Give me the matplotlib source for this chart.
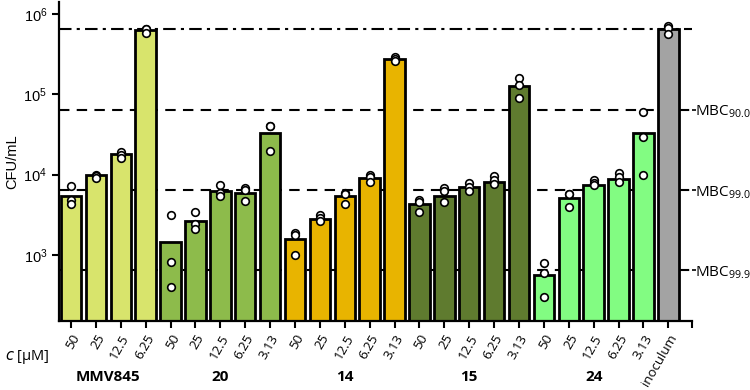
import numpy as np
import matplotlib.pyplot as plt

# concentrations (x tick labels) and groups
conc_labels = ["50", "25", "12.5", "6.25",
               "50", "25", "12.5", "6.25", "3.13",
               "50", "25", "12.5", "6.25", "3.13",
               "50", "25", "12.5", "6.25", "3.13",
               "50", "25", "12.5", "6.25", "3.13",
               "inoculum"]
group_names = ["MMV845", "20", "14", "15", "24"]
group_sizes = [4, 5, 5, 5, 5]

# bar heights (CFU/mL)
mmv845 = [5400, 9800, 17900, 630000]
cpd20 = [1440, 2670, 6250, 5960, 33300]
cpd14 = [1560, 2800, 5400, 9000, 273000]
cpd15 = [4270, 5400, 6950, 8160, 127000]
cpd24 = [562, 5160, 7410, 8810, 33300]
inoculum = [645000]

# replicates (CFU/mL)
mmv845_pts = [[7100, 4800, 4300], [10000, 9500, 9000], [19300, 17500, 16200], [650000, 640000, 575000]]
cpd20_pts = [[3140, 810, 400], [3390, 2450, 2090], [7300, 5900, 5400], [6700, 6500, 4700], [40300, 40000, 19900]]
cpd14_pts = [[1890, 1770, 1000], [3140, 2900, 2670], [5900, 5800, 4300], [10000, 9400, 8000], [288000, 275000, 262000]]
cpd15_pts = [[4800, 4600, 3390], [6800, 6250, 4600], [7950, 7080, 6150], [9540, 8500, 7600], [161000, 131000, 90800]]
cpd24_pts = [[800, 600, 302], [5700, 5700, 3900], [8500, 7940, 7410], [10400, 9400, 8000], [59700, 29600, 10000]]
inoculum_pts = [[715000, 660000, 558000]]

colors = ["#d8e46c", "#8dbb4b", "#e8b400", "#5f7b2f", "#82fc82", "#a3a3a3"]

heights = mmv845 + cpd20 + cpd14 + cpd15 + cpd24 + inoculum
points = mmv845_pts + cpd20_pts + cpd14_pts + cpd15_pts + cpd24_pts + inoculum_pts
bar_colors = ([colors[0]] * 4 + [colors[1]] * 5 + [colors[2]] * 5 +
              [colors[3]] * 5 + [colors[4]] * 5 + [colors[5]])
x = np.arange(len(heights))

fig = plt.figure(figsize=(7.5, 3.9), dpi=100)
ax = fig.add_axes([0.0787, 0.177, 0.844, 0.818])
ax.set_yscale("log")
ax.set_ylim(150, 1.41e6)
ax.set_xlim(-0.48, 24.95)

# reference lines: inoculum and MBC levels
inoc = inoculum[0]
ax.axhline(inoc, color="black", lw=1.5, ls=(0, (6, 2.5, 1.5, 2.5)), zorder=1)
for f in [10, 100, 1000]:
    ax.axhline(inoc / f, color="black", lw=1.5, ls=(0, (5, 3.5)), zorder=1)

ax.bar(x, heights, width=0.82, color=bar_colors, edgecolor="black", linewidth=2, zorder=2)
for xi, p in zip(x, points):
    ax.scatter([xi] * len(p), p, s=30, facecolor="white", edgecolor="black", linewidth=1.2, zorder=4)

for s in ["top", "right"]:
    ax.spines[s].set_visible(False)
ax.spines["left"].set_linewidth(1.6)
ax.spines["bottom"].set_linewidth(1.6)

ax.set_yticks([1e3, 1e4, 1e5, 1e6])
ax.yaxis.set_minor_locator(plt.NullLocator())
ax.tick_params(axis="y", labelsize=10.5, width=1.5, length=5)
for t in ax.get_yticklabels():
    t.set_family("Liberation Sans")
ax.set_ylabel("CFU/mL", fontsize=10.5, family="Liberation Sans", labelpad=3)

ax.set_xticks(list(x) + [24.95])
ax.set_xticklabels(conc_labels + [""], rotation=60, ha="right", rotation_mode="anchor",
                   fontsize=9.5, family="Open Sans")
ax.tick_params(axis="x", width=1.5, length=5, pad=3)

# right side MBC labels
ax2 = ax.twinx()
ax2.set_yscale("log")
ax2.set_ylim(ax.get_ylim())
ax2.set_yticks([inoc / 10, inoc / 100, inoc / 1000])
ax2.set_yticklabels([r"MBC$_{\mathregular{90.0}}$", r"MBC$_{\mathregular{99.0}}$", r"MBC$_{\mathregular{99.9}}$"],
                    fontsize=11, family="Open Sans")
ax2.yaxis.set_minor_locator(plt.NullLocator())
ax2.tick_params(axis="y", length=3, width=1.2, pad=-1)
for s in ["top", "right", "left", "bottom"]:
    ax2.spines[s].set_visible(False)

# concentration label and group names
fig.text(0.007, 0.085, r"$\it{c}$ [μM]", fontsize=10.5, family="Open Sans", va="center")
start = 0
for name, n in zip(group_names, group_sizes):
    center = start + (n - 1) / 2
    ax.text(center, -0.175, name, transform=ax.get_xaxis_transform(), ha="center", va="center",
            fontsize=11, fontweight="bold", family="Open Sans")
    start += n

fig.savefig("out.png", dpi=100)
